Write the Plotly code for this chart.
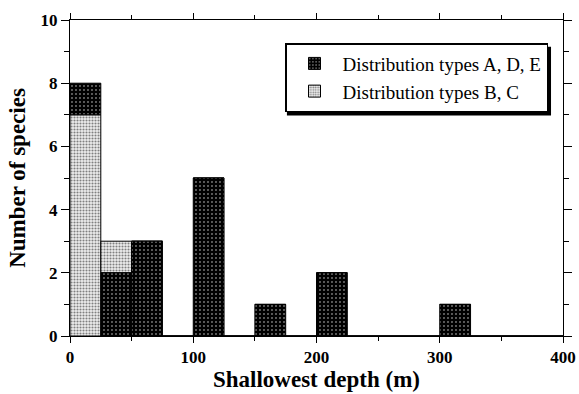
import plotly.graph_objects as go

bin_left = [0, 25, 50, 75, 100, 125, 150, 175, 200, 225, 250, 275, 300, 325, 350, 375]
types_ade = [1, 2, 3, 0, 5, 0, 1, 0, 2, 0, 0, 0, 1, 0, 0, 0]
types_bc = [7, 1, 0, 0, 0, 0, 0, 0, 0, 0, 0, 0, 0, 0, 0, 0]
bin_width = 25
x_ticks = [0, 100, 200, 300, 400]
y_ticks = [0, 2, 4, 6, 8, 10]

centers = [b + bin_width / 2 for b in bin_left]
# within each bin the larger group is stacked at the bottom
base_bc = [0 if bc >= a else a for a, bc in zip(types_ade, types_bc)]
base_ade = [bc if bc >= a else 0 for a, bc in zip(types_ade, types_bc)]

fig = go.Figure()
fig.add_trace(go.Bar(
    x=centers, y=types_bc, base=base_bc, width=bin_width, name="Distribution types B, C",
    marker=dict(color="#e0e0e0", line=dict(color="black", width=1),
                pattern=dict(shape=".", bgcolor="#eeeeee", fgcolor="#808080",
                             size=3, solidity=0.4, fillmode="replace")),
))
fig.add_trace(go.Bar(
    x=centers, y=types_ade, base=base_ade, width=bin_width, name="Distribution types A, D, E",
    marker=dict(color="black", line=dict(color="black", width=1),
                pattern=dict(shape=".", bgcolor="black", fgcolor="white",
                             size=4, solidity=0.08, fillmode="replace")),
))

font_b = "Liberation Serif"
fig.update_layout(
    barmode="overlay",
    width=579, height=394,
    margin=dict(l=70, r=16, t=20, b=58),
    plot_bgcolor="white", paper_bgcolor="white",
    showlegend=True,
    legend=dict(x=0.9696, y=0.927, xanchor="right", yanchor="top",
                traceorder="reversed", bgcolor="white", bordercolor="black",
                borderwidth=1.5, font=dict(family=font_b, size=19, color="black"),
                itemwidth=46, tracegroupgap=0),
    xaxis=dict(range=[0, 400], tickvals=x_ticks, ticks="outside", ticklen=6,
               tickcolor="black", showline=True, linecolor="black", linewidth=1,
               mirror="ticks", showgrid=False, zeroline=False, automargin=False,
               minor=dict(dtick=50, tick0=0, ticks="outside", ticklen=4, tickcolor="black"),
               tickfont=dict(family=font_b, size=17, color="black", weight="bold"),
               title=dict(text="<b>Shallowest depth (m)</b>", standoff=4,
                          font=dict(family=font_b, size=23, color="black"))),
    yaxis=dict(range=[0, 10], tickvals=y_ticks, ticks="outside", ticklen=8,
               tickcolor="black", showline=True, linecolor="black", linewidth=1,
               mirror="ticks", showgrid=False, zeroline=False, automargin=False,
               minor=dict(dtick=1, tick0=0, ticks="outside", ticklen=5, tickcolor="black"),
               tickfont=dict(family=font_b, size=17, color="black", weight="bold"),
               title=dict(text="<b>Number of species</b>", standoff=8,
                          font=dict(family=font_b, size=23, color="black"))),
)

# legend drop shadow
fig.add_shape(type="rect", xref="paper", yref="paper",
              x0=0.440, x1=0.9757, y0=0.698, y1=0.915,
              fillcolor="black", line=dict(width=0), layer="above")

fig.write_html("out.html", config={"displayModeBar": False},
               post_script="document.body.style.margin='0';document.body.style.overflow='hidden';")
